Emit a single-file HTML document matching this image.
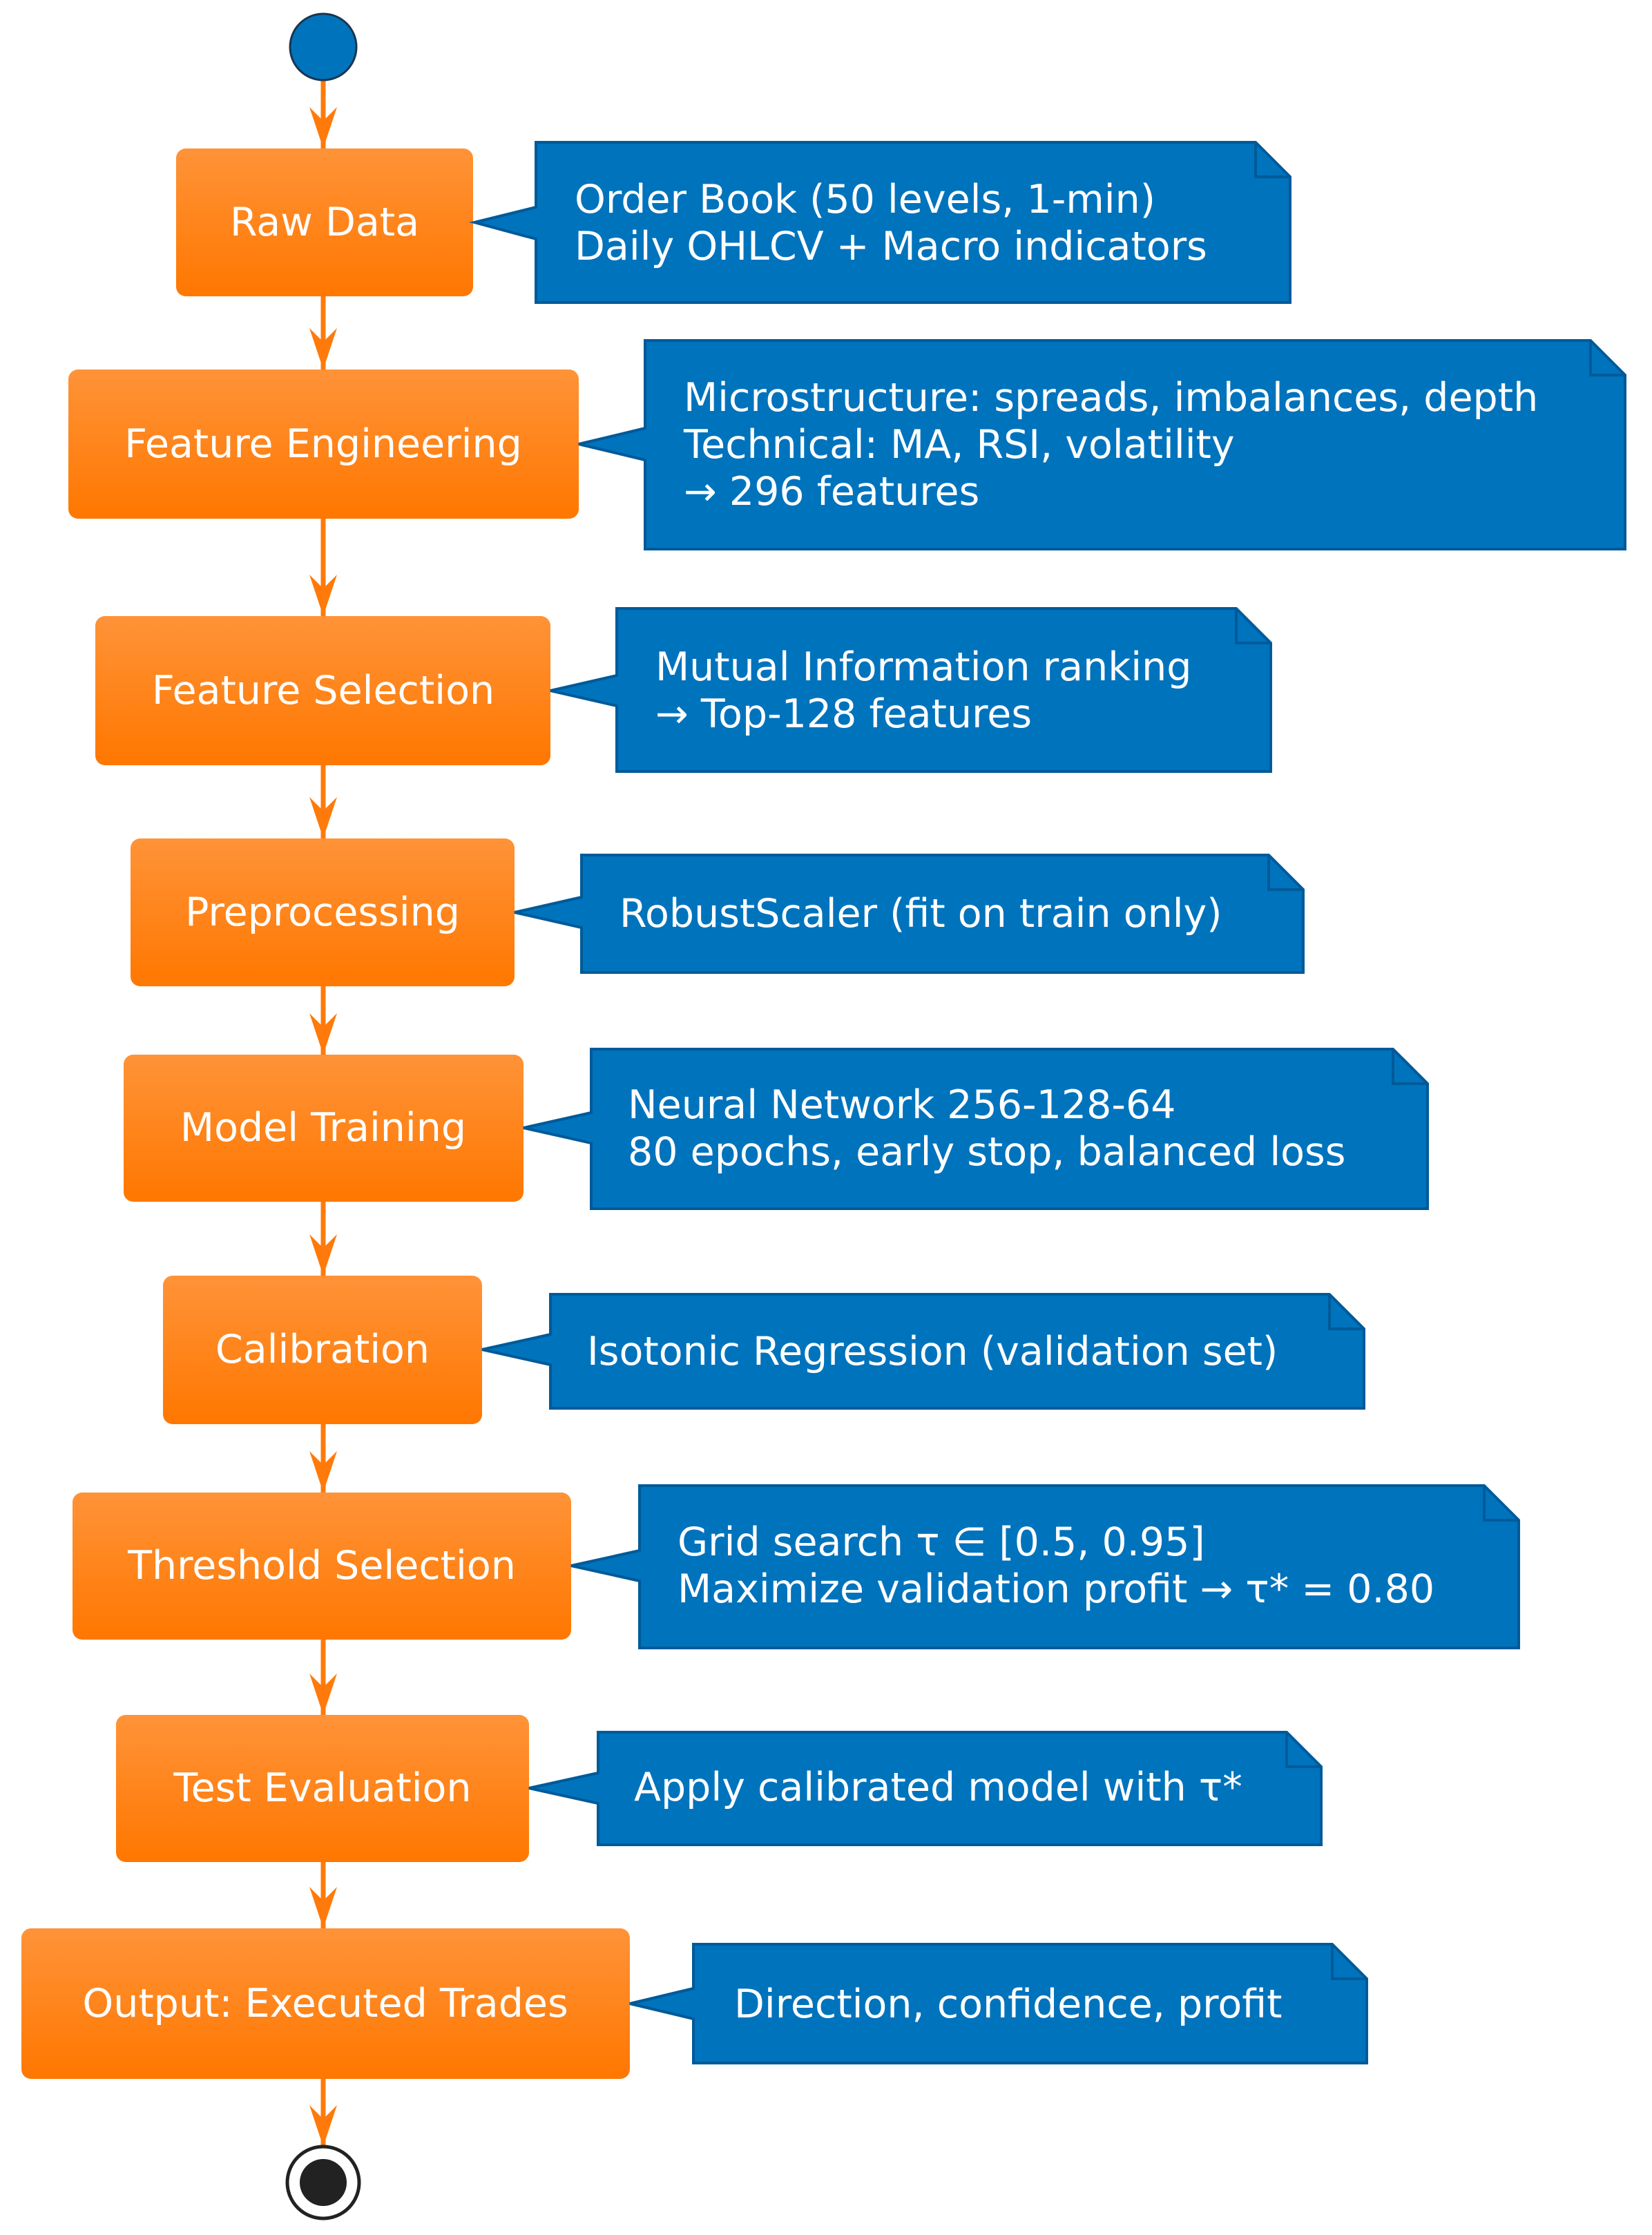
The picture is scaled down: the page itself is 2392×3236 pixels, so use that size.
<!DOCTYPE html>
<html><head><meta charset="utf-8"><style>html,body{margin:0;padding:0;background:#fff}svg{display:block}</style></head>
<body>
<svg width="2392" height="3236" viewBox="0 0 2392 3236" xmlns="http://www.w3.org/2000/svg" font-family="'DejaVu Sans','Liberation Sans',sans-serif">
<defs>
<linearGradient id="og" x1="0" y1="0" x2="0" y2="1"><stop offset="0" stop-color="#ff9338"/><stop offset="1" stop-color="#ff7700"/></linearGradient>
</defs>
<g stroke="#ff7a0a" stroke-width="7">
<line x1="468" y1="110" x2="468" y2="215"/>
<line x1="468" y1="429" x2="468" y2="535"/>
<line x1="468" y1="751" x2="468" y2="892"/>
<line x1="468" y1="1108" x2="468" y2="1214"/>
<line x1="468" y1="1428" x2="468" y2="1527"/>
<line x1="468" y1="1740" x2="468" y2="1847"/>
<line x1="468" y1="2062" x2="468" y2="2161"/>
<line x1="468" y1="2374" x2="468" y2="2483"/>
<line x1="468" y1="2696" x2="468" y2="2792"/>
<line x1="468" y1="3010" x2="468" y2="3108"/>
</g>
<g fill="#ff7a0a">
<polygon points="468,215 448,155 468,175 488,155"/>
<polygon points="468,535 448,475 468,495 488,475"/>
<polygon points="468,892 448,832 468,852 488,832"/>
<polygon points="468,1214 448,1154 468,1174 488,1154"/>
<polygon points="468,1527 448,1467 468,1487 488,1467"/>
<polygon points="468,1847 448,1787 468,1807 488,1787"/>
<polygon points="468,2161 448,2101 468,2121 488,2101"/>
<polygon points="468,2483 448,2423 468,2443 488,2423"/>
<polygon points="468,2792 448,2732 468,2752 488,2732"/>
<polygon points="468,3108 448,3048 468,3068 488,3048"/>
</g>
<circle cx="468" cy="68" r="48" fill="#0073bd" stroke="#1a3550" stroke-width="3"/>
<circle cx="468" cy="3160" r="52" fill="#fff" stroke="#222" stroke-width="5"/>
<circle cx="468" cy="3160" r="34" fill="#222"/>

<g fill="url(#og)">
<rect x="255" y="215" width="430" height="214" rx="14"/>
<rect x="99" y="535" width="739" height="216" rx="14"/>
<rect x="138" y="892" width="659" height="216" rx="14"/>
<rect x="189" y="1214" width="556" height="214" rx="14"/>
<rect x="179" y="1527" width="579" height="213" rx="14"/>
<rect x="236" y="1847" width="462" height="215" rx="14"/>
<rect x="105" y="2161" width="722" height="213" rx="14"/>
<rect x="168" y="2483" width="598" height="213" rx="14"/>
<rect x="31" y="2792" width="881" height="218" rx="14"/>
</g>
<g fill="#fff" font-size="57" text-anchor="middle" dominant-baseline="central">
<text x="470" y="322">Raw Data</text>
<text x="468" y="643">Feature Engineering</text>
<text x="468" y="1000">Feature Selection</text>
<text x="467" y="1321">Preprocessing</text>
<text x="468" y="1633">Model Training</text>
<text x="467" y="1954">Calibration</text>
<text x="466" y="2267">Threshold Selection</text>
<text x="467" y="2589">Test Evaluation</text>
<text x="471" y="2901">Output: Executed Trades</text>
</g>

<g fill="#0073bd" stroke="#005a99" stroke-width="4">
<path d="M776,206 H1818 L1868,256 V438 H776 V346 L687,322 L776,300 Z"/>
<path d="M934,493 H2303 L2353,543 V795 H934 V666 L838,643 L934,620 Z"/>
<path d="M893,881 H1790 L1840,931 V1117 H893 V1022 L797,1000 L893,978 Z"/>
<path d="M842,1238 H1837 L1887,1288 V1408 H842 V1343 L745,1321 L842,1299 Z"/>
<path d="M856,1519 H2017 L2067,1569 V1750 H856 V1655 L758,1633 L856,1611 Z"/>
<path d="M797,1874 H1925 L1975,1924 V2039 H797 V1976 L698,1954 L797,1932 Z"/>
<path d="M926,2151 H2149 L2199,2201 V2386 H926 V2289 L827,2267 L926,2245 Z"/>
<path d="M866,2508 H1863 L1913,2558 V2671 H866 V2611 L766,2589 L866,2567 Z"/>
<path d="M1004,2815 H1929 L1979,2865 V2987 H1004 V2923 L912,2901 L1004,2879 Z"/>
</g>
<g fill="none" stroke="#005a99" stroke-width="4">
<path d="M1818,206 V256 H1868"/>
<path d="M2303,493 V543 H2353"/>
<path d="M1790,881 V931 H1840"/>
<path d="M1837,1238 V1288 H1887"/>
<path d="M2017,1519 V1569 H2067"/>
<path d="M1925,1874 V1924 H1975"/>
<path d="M2149,2151 V2201 H2199"/>
<path d="M1863,2508 V2558 H1913"/>
<path d="M1929,2815 V2865 H1979"/>
</g>
<g fill="#fff" font-size="57" dominant-baseline="central">
<text x="832" y="289">Order Book (50 levels, 1-min)</text>
<text x="832" y="357">Daily OHLCV + Macro indicators</text>
<text x="990" y="576">Microstructure: spreads, imbalances, depth</text>
<text x="990" y="644">Technical: MA, RSI, volatility</text>
<text x="990" y="712">→ 296 features</text>
<text x="949" y="966">Mutual Information ranking</text>
<text x="949" y="1034">→ Top-128 features</text>
<text x="897" y="1323">RobustScaler (fit on train only)</text>
<text x="909" y="1600">Neural Network 256-128-64</text>
<text x="909" y="1668">80 epochs, early stop, balanced loss</text>
<text x="850" y="1957">Isotonic Regression (validation set)</text>
<text x="981" y="2233">Grid search τ ∈ [0.5, 0.95]</text>
<text x="981" y="2301">Maximize validation profit → τ* = 0.80</text>
<text x="918" y="2588">Apply calibrated model with τ*</text>
<text x="1063" y="2902">Direction, confidence, profit</text>
</g>
</svg>
</body></html>
